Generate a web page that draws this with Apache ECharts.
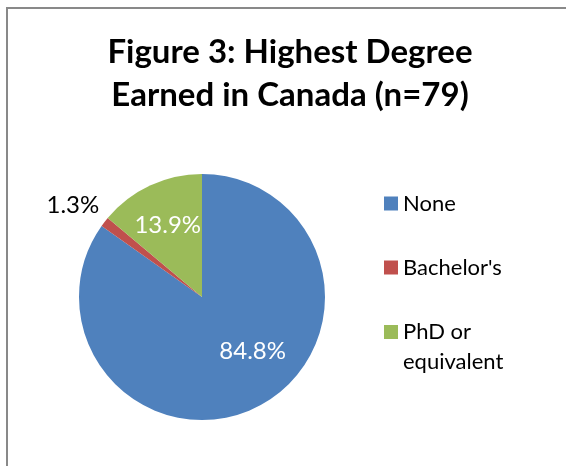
<!DOCTYPE html>
<html>
<head>
<meta charset="utf-8">
<script src="https://cdn.jsdelivr.net/npm/echarts@6/dist/echarts.min.js"></script>
<style>
html,body{margin:0;padding:0;background:#fff;}
#chart{width:566px;height:466px;}
</style>
</head>
<body>
<div id="chart"></div>
<script>
const titleText = "Figure 3: Highest Degree\nEarned in Canada (n=79)";
const categories = ["None", "Bachelor's", "PhD or equivalent"];
const values = [84.8, 1.3, 13.9];
const colors = ["#4F81BD", "#C0504D", "#9BBB59"];
const labelPositions = ["inside", "outside", "inside"];
const labelColors = ["#ffffff", "#000000", "#ffffff"];
const labelShifts = [[21, -3], [14, -12], [-7, -13]];
const legendTops = [189, 253, 287];

const FONT = "Lato";
const chart = echarts.init(document.getElementById('chart'), null, {renderer: 'canvas'});

const data = categories.map((c, i) => ({
  name: c,
  value: values[i],
  itemStyle: {color: colors[i]},
  label: {position: labelPositions[i], color: labelColors[i]},
  labelLine: {show: false}
}));

const legendBase = {
  orient: 'vertical',
  left: 384,
  padding: 0,
  itemWidth: 14,
  itemHeight: 14,
  icon: 'rect',
  selectedMode: false,
  textStyle: {fontFamily: FONT, fontSize: 22, lineHeight: 29, color: '#000', width: 120, overflow: 'break'}
};

chart.setOption({
  animation: false,
  backgroundColor: '#ffffff',
  graphic: [{
    type: 'rect',
    shape: {x: 7, y: 8, width: 620, height: 520},
    style: {fill: 'none', stroke: '#898989', lineWidth: 2},
    silent: true
  }],
  title: {
    text: titleText,
    left: 285,
    textAlign: 'center',
    top: 26,
    textStyle: {fontFamily: FONT, fontWeight: 'bold', fontSize: 33, lineHeight: 43, color: '#000'}
  },
  legend: categories.map((c, i) => Object.assign({}, legendBase, {
    top: legendTops[i],
    data: [i === 2 ? {name: c, textStyle: {lineHeight: 30}} : c],
    formatter: i === 2 ? (n => '\n' + n.replace(' or ', ' or\n')) : undefined
  })),
  series: [{
    type: 'pie',
    center: [202, 297],
    radius: 123,
    startAngle: 90,
    clockwise: true,
    data: data,
    itemStyle: {borderWidth: 0},
    label: {
      show: true,
      fontFamily: FONT,
      fontSize: 24,
      formatter: p => p.value.toFixed(1) + '%'
    },
    labelLine: {show: false, length: 8, length2: 8},
    emphasis: {disabled: true},
    labelLayout: p => ({dx: labelShifts[p.dataIndex][0], dy: labelShifts[p.dataIndex][1]})
  }]
});
</script>
</body>
</html>
